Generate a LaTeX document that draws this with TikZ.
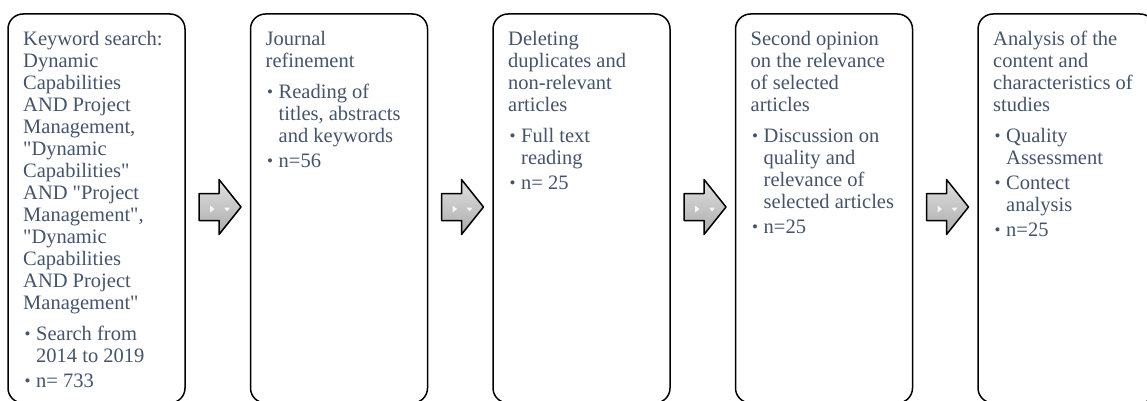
\documentclass[tikz,border=0pt]{standalone}
\usepackage{fontspec}
\setmainfont{Liberation Serif}[Ligatures=TeXOff]
\definecolor{txt}{HTML}{44546A}
\definecolor{arrlight}{HTML}{E0E0E0}
\definecolor{arrdark}{HTML}{ABABAB}
\newcommand\bul{\makebox[13pt][l]{\hspace{1.5pt}\raisebox{0.3pt}{\fontsize{17}{17}\selectfont\textbullet}}}
\newcommand\ind{\hspace*{13pt}}
\tikzset{
  stagebox/.style={draw=black, line width=1.5pt, rounded corners=15pt, fill=white,
    minimum width=177pt, minimum height=389pt, anchor=north west, inner sep=0pt, outer sep=0pt},
  stagetext/.style={anchor=north west, inner sep=0pt, align=left, text=txt,
    font=\fontsize{20.5}{22}\selectfont},
  blockarrow/.style={draw=black, line width=1.5pt, line join=round,
    top color=arrlight, bottom color=arrdark},
  glint/.style={fill=white, opacity=0.85}
}
\begin{document}
\begin{tikzpicture}[x=1pt, y=-1pt]
\useasboundingbox (0,0) rectangle (1147,401);
\clip (0,0) rectangle (1147,401);
\fill[white] (0,0) rectangle (1147,401);

\node[stagebox] (b1) at (8,14) {};
\node[stagebox] (b2) at (250.5,14) {};
\node[stagebox] (b3) at (493,14) {};
\node[stagebox] (b4) at (735.5,14) {};
\node[stagebox] (b5) at (978,14) {};

\node[stagetext] (t1) at (23,29.6) {\strut Keyword search:\\ Dynamic\\ Capabilities\\ AND Project\\ Management,\\ "Dynamic\\ Capabilities"\\ AND "Project\\ Management",\\ "Dynamic\\ Capabilities\\ AND Project\\ Management"\\[9pt] \bul Search from\\ \ind 2014 to 2019\\[3pt] \bul n= 733};
\node[stagetext] (t2) at (265.5,29.6) {\strut Journal\\ refinement\\[9pt] \bul Reading of\\ \ind titles, abstracts\\ \ind and keywords\\[3pt] \bul n=56};
\node[stagetext] (t3) at (508,29.6) {\strut Deleting\\ duplicates and\\ non-relevant\\ articles\\[9pt] \bul Full text\\ \ind reading\\[3pt] \bul n= 25};
\node[stagetext] (t4) at (750.5,29.6) {\strut Second opinion\\ on the relevance\\ of selected\\ articles\\[9pt] \bul Discussion on\\ \ind quality and\\ \ind relevance of\\ \ind selected articles\\[3pt] \bul n=25};
\node[stagetext] (t5) at (993,29.6) {\strut Analysis of the\\ content and\\ characteristics of\\ studies\\[9pt] \bul Quality\\ \ind Assessment\\[3pt] \bul Contect\\ \ind analysis\\[3pt] \bul n=25};

\foreach \x in {199,441.5,684,926.5}{
  \draw[blockarrow] (\x,193.5) -- (\x+20,193.5) -- (\x+20,179.5) -- (\x+42,207)
     -- (\x+20,234.5) -- (\x+20,220.5) -- (\x,220.5) -- cycle;
  \fill[glint] (\x+11,205.5) -- (\x+15.5,209) -- (\x+11,212.5) -- cycle;
  \fill[glint] (\x+25,207.5) -- (\x+31,207.5) -- (\x+28,211.5) -- cycle;
}
\end{tikzpicture}
\end{document}
